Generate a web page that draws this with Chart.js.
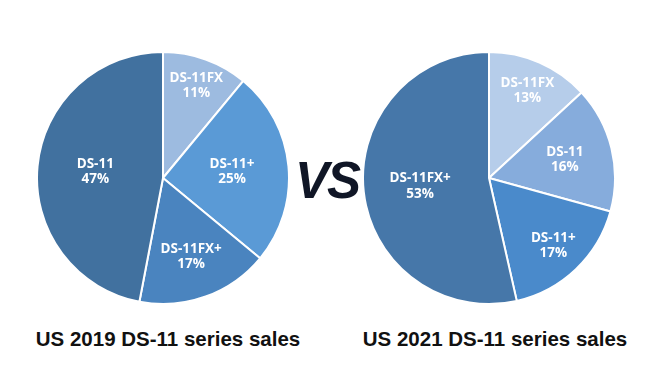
<!DOCTYPE html>
<html>
<head>
<meta charset="utf-8">
<script src="https://cdn.jsdelivr.net/npm/chart.js@4.4.1/dist/chart.umd.min.js"></script>
<style>
  html, body { margin: 0; padding: 0; background: #ffffff; }
  #wrap { position: relative; width: 650px; height: 378px; overflow: hidden; background: #fff; }
  canvas { position: absolute; }
  #c1 { left: 36px; top: 51px; }
  #c2 { left: 362px; top: 51px; }
  .title { position: absolute; font-family: "Liberation Sans", Arial, sans-serif; font-weight: bold; font-size: 20.5px; color: #111; white-space: nowrap; transform: translateX(-50%); }
  #t1 { left: 168px; top: 327px; }
  #t2 { left: 495px; top: 327px; }
  #vs { position: absolute; left: 327px; top: 151px; transform: translateX(-50%); font-family: "Liberation Sans", Arial, sans-serif; font-weight: bold; font-style: italic; font-size: 51px; color: #101626; letter-spacing: -2px; }
</style>
</head>
<body>
<div id="wrap">
  <canvas id="c1" width="254" height="254"></canvas>
  <canvas id="c2" width="254" height="254"></canvas>
  <div class="title" id="t1">US 2019 DS-11 series sales</div>
  <div class="title" id="t2">US 2021 DS-11 series sales</div>
  <div id="vs">VS</div>
</div>
<script>
// Data
const labels2019 = ["DS-11FX", "DS-11+", "DS-11FX+", "DS-11"];
const values2019 = [11, 25, 17, 47];
const labels2021 = ["DS-11FX", "DS-11", "DS-11+", "DS-11FX+"];
const values2021 = [13, 16, 17, 53];
const titles = ["US 2019 DS-11 series sales", "US 2021 DS-11 series sales"];

// Styles
const colors2019 = ["#9dbbe0", "#5a9ad6", "#4a84bf", "#41719f"];
const colors2021 = ["#b6cdea", "#86acdc", "#4a8acb", "#4677a9"];
const labelRadius2019 = [0.78, 0.55, 0.66, 0.54];
const labelRadius2021 = [0.76, 0.62, 0.74, 0.55];

const sliceLabels = {
  id: 'sliceLabels',
  afterDatasetsDraw(chart, args, opts) {
    const ctx = chart.ctx;
    const meta = chart.getDatasetMeta(0);
    const ds = chart.data.datasets[0];
    ctx.save();
    ctx.fillStyle = '#ffffff';
    ctx.font = 'bold 13.5px "Open Sans", "DejaVu Sans", sans-serif';
    ctx.textAlign = 'center';
    ctx.textBaseline = 'middle';
    meta.data.forEach((arc, i) => {
      const p = arc.getProps(['x', 'y', 'startAngle', 'endAngle', 'outerRadius'], true);
      const mid = (p.startAngle + p.endAngle) / 2;
      const r = p.outerRadius * opts.radii[i];
      const x = p.x + Math.cos(mid) * r;
      const y = p.y + Math.sin(mid) * r;
      ctx.fillText(chart.data.labels[i], x, y - 7.5);
      ctx.fillText(ds.data[i] + '%', x, y + 8);
    });
    ctx.restore();
  }
};

function makePie(id, labels, values, colors, radii) {
  new Chart(document.getElementById(id), {
    type: 'pie',
    data: {
      labels: labels,
      datasets: [{
        data: values,
        backgroundColor: colors,
        borderColor: '#ffffff',
        borderWidth: 2,
        hoverOffset: 0
      }]
    },
    options: {
      responsive: false,
      animation: false,
      devicePixelRatio: 1,
      layout: { padding: 0 },
      plugins: {
        legend: { display: false },
        tooltip: { enabled: false },
        title: { display: false },
        sliceLabels: { radii: radii }
      }
    },
    plugins: [sliceLabels]
  });
}

makePie('c1', labels2019, values2019, colors2019, labelRadius2019);
makePie('c2', labels2021, values2021, colors2021, labelRadius2021);
</script>
</body>
</html>
